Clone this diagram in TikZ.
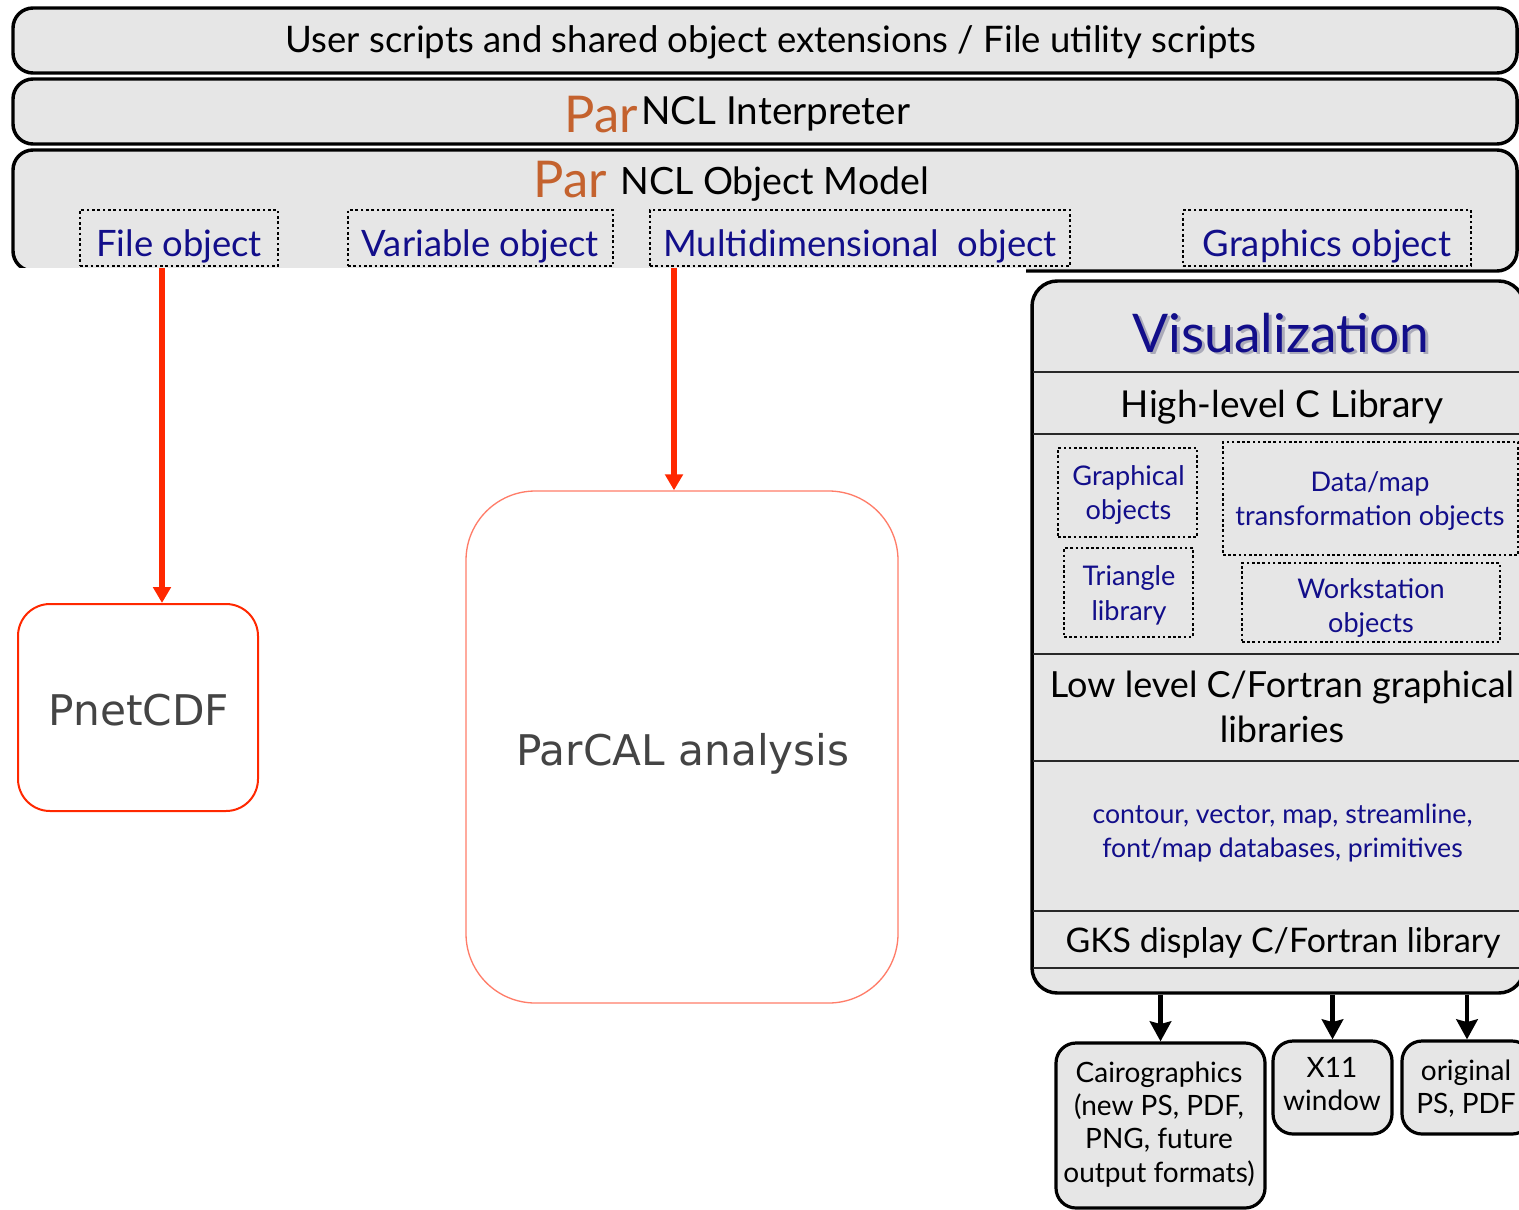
\documentclass[tikz,border=0pt]{standalone}
\usepackage{fontspec}
\setmainfont{Lato}
\newfontfamily\dvs{DejaVu Sans}
\usetikzlibrary{arrows.meta,fit}
\definecolor{barfill}{RGB}{230,230,230}
\definecolor{navy}{RGB}{18,14,138}
\definecolor{parorange}{RGB}{196,98,46}
\definecolor{redarrow}{RGB}{255,40,0}
\definecolor{salmon}{RGB}{255,125,105}
\definecolor{graytext}{RGB}{68,68,68}
\definecolor{divgray}{RGB}{40,40,40}
\definecolor{shadowgray}{RGB}{170,170,185}
\begin{document}
\begin{tikzpicture}[x=0.75pt,y=-0.75pt,
  bar/.style={draw=black,line width=2.6pt,fill=barfill,rounded corners=15pt,inner sep=0pt},
  topdot/.style={draw=black,line width=2pt,dash pattern=on 2pt off 2pt,inner sep=0pt},
  visdot/.style={draw=black,line width=1.9pt,dash pattern=on 1.9pt off 2pt,inner sep=0pt},
  outbox/.style={draw=black,line width=2.4pt,fill=barfill,rounded corners=15pt,inner sep=0pt},
  divider/.style={draw=divgray,line width=1.4pt},
  redarr/.style={draw=redarrow,line width=4.5pt,-{Triangle[width=13pt,length=12pt]}},
  blackarr/.style={draw=black,line width=3.6pt,-{Stealth[width=16pt,length=15pt,inset=2pt]}},
  txt/.style={anchor=base,inner sep=0pt},
  objtxt/.style={txt,text=navy,font=\fontsize{27.3}{30}\selectfont},
  vistxt/.style={txt,text=navy,font=\fontsize{20.3}{24}\selectfont},
  outtxt/.style={txt,font=\fontsize{21}{24}\selectfont},
  partxt/.style={text=parorange,inner sep=0pt},
  sanslabel/.style={txt,text=graytext,font=\dvs\fontsize{31.7}{36}\selectfont}
]
\useasboundingbox (0,0) rectangle (1519,1209);
\fill[white] (0,0) rectangle (1519,1209);

% ---------- top layers ----------
\node[bar,fit={(13,8)(1517,73)}] (b1) {};
\node[bar,fit={(13,79)(1517,144)}] (b2) {};
\node[bar,fit={(13,150)(1517,271)}] (b3) {};

\node[txt,font=\fontsize{27.4}{30}\selectfont] (t1) at (771,53)
  {User scripts and shared object extensions / File utility scripts};
\node[partxt,anchor=base east,font=\fontsize{38}{42}\selectfont] (par1) at (638,133) {Par};
\node[txt,anchor=base west,font=\fontsize{29}{32}\selectfont] (ncl1) at (641,125) {NCL Interpreter};
\node[partxt,anchor=base east,font=\fontsize{38}{42}\selectfont] (par2) at (607,197) {Par};
\node[txt,anchor=base west,font=\fontsize{28.2}{32}\selectfont] (ncl2) at (620,194) {NCL Object Model};

\node[topdot,fit={(80,210)(278,266)}] (fileobj) {};
\node[topdot,fit={(348,210)(613,266)}] (varobj) {};
\node[topdot,fit={(650,210)(1070,266)}] (multiobj) {};
\node[topdot,fit={(1183,210)(1471,266)}] (grobj) {};
\node[objtxt] (fileobjtxt) at (179,256) {File object};
\node[objtxt] (varobjtxt) at (480.5,256) {Variable object};
\node[objtxt] (multiobjtxt) at (860,256) {Multidimensional\ \ object};
\node[objtxt] (grobjtxt) at (1327,256) {Graphics object};

% white area hiding the lower part of the object-model layer
\fill[white] (0,268) rectangle (1026,284);

% ---------- analysis boxes ----------
\node[draw=redarrow,line width=1.5pt,rounded corners=24pt,inner sep=0pt,fit={(18,604)(258,811)}] (pnet) {};
\node[sanslabel] (pnettxt) at (139,725) {PnetCDF};
\node[draw=salmon,line width=1pt,rounded corners=52pt,inner sep=0pt,fit={(466,491)(898,1003)}] (parcal) {};
\node[sanslabel] (parcaltxt) at (683,765) {ParCAL analysis};

\coordinate (ra1) at (162,268);
\coordinate (ra2) at (674,268);
\draw[redarr] (ra1) -- (ra1 |- pnet.north);
\draw[redarr] (ra2) -- (ra2 |- parcal.north);

% ---------- visualization stack ----------
\node[bar,rounded corners=19pt,fit={(1032,281)(1524,993)}] (vis) {};
\foreach \yy in {372,434,654,761,911,968}
  \draw[divider] (1033,\yy) -- (1522,\yy);

\node[txt,text=navy,font=\fontsize{40}{46}\selectfont] (vistitle) at (1281,352)
  {\rlap{\kern2pt\raisebox{-2pt}{\color{shadowgray}Visualization}}Visualization};
\node[txt,font=\fontsize{27.8}{30}\selectfont] (hlc) at (1282,417) {High-level C Library};

\node[visdot,fit={(1058,448)(1197,537)}] (gobj) {};
\node[visdot,fit={(1223,442)(1518,555)}] (dmap) {};
\node[visdot,fit={(1064,548)(1193,637)}] (tri) {};
\node[visdot,fit={(1242,563)(1500,642)}] (ws) {};
\node[vistxt] (gobj1) at (1128.5,485) {Graphical};
\node[vistxt] (gobj2) at (1128.5,519) {objects};
\node[vistxt] (dmap1) at (1370,491) {Data/map};
\node[vistxt] (dmap2) at (1370,525) {transformation objects};
\node[vistxt] (tri1) at (1129,585) {Triangle};
\node[vistxt] (tri2) at (1129,620) {library};
\node[vistxt] (ws1) at (1371,598) {Workstation};
\node[vistxt] (ws2) at (1371,632) {objects};

\node[txt,font=\fontsize{27}{30}\selectfont] (llc1) at (1282,697) {Low level C/Fortran graphical};
\node[txt,font=\fontsize{27}{30}\selectfont] (llc2) at (1282,742) {libraries};
\node[txt,text=navy,font=\fontsize{20}{24}\selectfont] (prims1) at (1282.5,823) {contour, vector, map, streamline,};
\node[txt,text=navy,font=\fontsize{20}{24}\selectfont] (prims2) at (1282.5,857) {font/map databases, primitives};
\node[txt,font=\fontsize{25.4}{30}\selectfont] (gks) at (1283,952) {GKS display C/Fortran library};

% ---------- output devices ----------
\node[outbox,fit={(1056,1043)(1265,1208)}] (cairo) {};
\node[outbox,fit={(1273,1041)(1392,1134)}] (x11) {};
\node[outbox,fit={(1402,1041)(1532,1134)}] (orig) {};
\node[outtxt] (cairo1) at (1159,1082) {Cairographics};
\node[outtxt] (cairo2) at (1159,1115) {(new PS, PDF,};
\node[outtxt] (cairo3) at (1159,1148) {PNG, future};
\node[outtxt] (cairo4) at (1159,1182) {output formats)};
\node[outtxt] (x111) at (1332,1077) {X11};
\node[outtxt] (x112) at (1332,1110) {window};
\node[outtxt] (orig1) at (1466,1080) {original};
\node[outtxt] (orig2) at (1466,1113) {PS, PDF};

\draw[blackarr] (vis.south -| cairo.north) -- (cairo.north);
\draw[blackarr] (vis.south -| x11.north) -- (x11.north);
\draw[blackarr] (vis.south -| orig.north) -- (orig.north);
\end{tikzpicture}
\end{document}
